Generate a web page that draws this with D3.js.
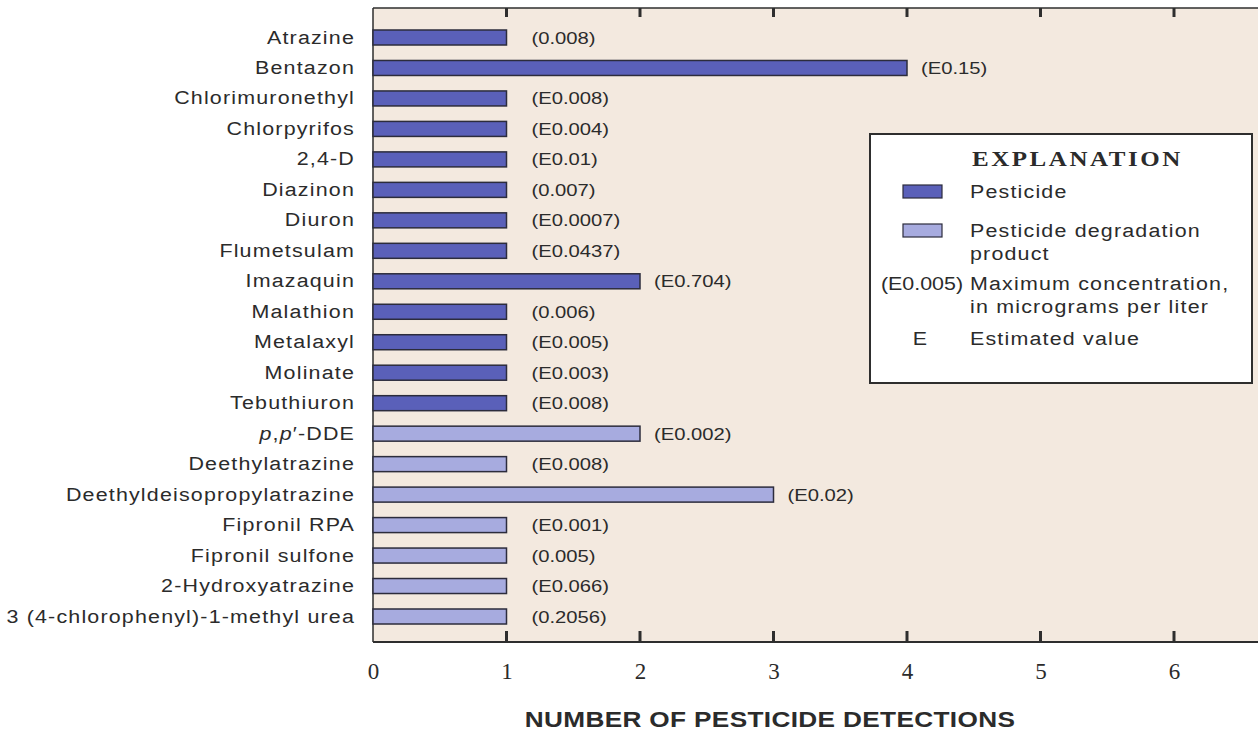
<!DOCTYPE html>
<html>
<head>
<meta charset="utf-8">
<script src="https://cdnjs.cloudflare.com/ajax/libs/d3/7.8.5/d3.min.js"></script>
<style>
  body { margin: 0; background: #fff; }
  svg { display: block; }
  .lbl { font-family: "Liberation Sans", Arial, sans-serif; fill: #2b2b2b; }
</style>
</head>
<body>
<div id="canvas"></div>
<script>
// compounds, top to bottom
var names = ['Atrazine', 'Bentazon', 'Chlorimuronethyl', 'Chlorpyrifos', '2,4-D', 'Diazinon',
    'Diuron', 'Flumetsulam', 'Imazaquin', 'Malathion', 'Metalaxyl', 'Molinate', 'Tebuthiuron',
    'p,p\u2032-DDE', 'Deethylatrazine', 'Deethyldeisopropylatrazine', 'Fipronil RPA',
    'Fipronil sulfone', '2-Hydroxyatrazine', '3 (4-chlorophenyl)-1-methyl urea'];
// number of detections
var counts = [1, 4, 1, 1, 1, 1, 1, 1, 2, 1, 1, 1, 1, 2, 1, 3, 1, 1, 1, 1];
// maximum concentration labels
var maxConc = ['(0.008)', '(E0.15)', '(E0.008)', '(E0.004)', '(E0.01)', '(0.007)', '(E0.0007)',
    '(E0.0437)', '(E0.704)', '(0.006)', '(E0.005)', '(E0.003)', '(E0.008)', '(E0.002)',
    '(E0.008)', '(E0.02)', '(E0.001)', '(0.005)', '(E0.066)', '(0.2056)'];
// type: pesticide or degradation product
var types = ['P', 'P', 'P', 'P', 'P', 'P', 'P', 'P', 'P', 'P', 'P', 'P', 'P',
    'D', 'D', 'D', 'D', 'D', 'D', 'D'];
var xTicks = [0, 1, 2, 3, 4, 5, 6];

var W = 1258, H = 733;
var m = {t: 8, l: 373, b: 642};
var SX = 1.19; // the scanned figure is a little wider than tall

var data = names.map(function(n, i){
    return {name: n, count: counts[i], label: maxConc[i], type: types[i]};
});

var colors = {P: '#5a60b9', D: '#a7abdf'};

var svg = d3.select('#canvas').append('svg')
    .attr('width', W).attr('height', H);

// place a text at (x,y) and widen it horizontally
function place(sel, fx, fy){
    sel.attr('transform', function(d, i){
        var px = typeof fx === 'function' ? fx(d, i) : fx,
            py = typeof fy === 'function' ? fy(d, i) : fy;
        return 'translate(' + px + ',' + py + ') scale(' + SX + ',1)';
    });
    return sel;
}

var x = d3.scaleLinear().domain([0, 7]).range([m.l, m.l + 7 * 133.5]);
var y = d3.scalePoint().domain(names).range([37.5, 616.5]);
var barH = 15;

// plot background
svg.append('rect')
    .attr('x', m.l).attr('y', m.t)
    .attr('width', W - m.l).attr('height', m.b - m.t)
    .style('fill', '#f3e9df');

// frame lines
svg.append('line').attr('x1', m.l).attr('x2', W).attr('y1', m.t).attr('y2', m.t)
    .style('stroke', '#2e2e2e').style('stroke-width', 1.5);
svg.append('line').attr('x1', m.l).attr('x2', m.l).attr('y1', m.t).attr('y2', m.b)
    .style('stroke', '#2e2e2e').style('stroke-width', 1.5);

// bottom axis
var xAxis = d3.axisBottom(x).tickValues(xTicks).tickSize(0).tickPadding(21)
    .tickFormat(d3.format('d'));
var gx = svg.append('g').attr('transform', 'translate(0,' + m.b + ')').call(xAxis);
gx.select('.domain').remove();
gx.append('line').attr('x1', m.l).attr('x2', W).style('stroke', '#2e2e2e').style('stroke-width', 2);
gx.selectAll('.tick text')
    .style('font-family', '"Liberation Serif", "Times New Roman", serif')
    .style('font-size', '23px').style('fill', '#2b2b2b');

// inner ticks, bottom and top
var tickVals = xTicks.filter(function(d){ return d > 0; });
svg.selectAll('.btick').data(tickVals).enter().append('line').attr('class', 'btick')
    .attr('x1', function(d){ return x(d); }).attr('x2', function(d){ return x(d); })
    .attr('y1', m.b).attr('y2', m.b - 11)
    .style('stroke', '#2e2e2e').style('stroke-width', 3);
svg.selectAll('.ttick').data(tickVals).enter().append('line').attr('class', 'ttick')
    .attr('x1', function(d){ return x(d); }).attr('x2', function(d){ return x(d); })
    .attr('y1', m.t).attr('y2', m.t + 9)
    .style('stroke', '#2e2e2e').style('stroke-width', 3);

// bars
svg.selectAll('.bar').data(data).enter().append('rect').attr('class', 'bar')
    .attr('x', x(0))
    .attr('y', function(d){ return y(d.name) - barH / 2; })
    .attr('width', function(d){ return x(d.count) - x(0); })
    .attr('height', barH)
    .style('fill', function(d){ return colors[d.type]; })
    .style('stroke', '#2c2c3c').style('stroke-width', 1.5);

// value labels
var val = svg.selectAll('.val').data(data).enter().append('text').attr('class', 'lbl val')
    .style('font-size', '17px')
    .text(function(d){ return d.label; });
place(val, function(d){ return x(d.count) + (d.count === 1 ? 25 : 14); },
    function(d){ return y(d.name) + 6; });

// category labels
var cat = svg.selectAll('.cat').data(data).enter().append('text').attr('class', 'lbl cat')
    .attr('text-anchor', 'end')
    .style('font-size', '18px').style('letter-spacing', '1px');
place(cat, 355, function(d){ return y(d.name) + 6; });
cat.each(function(d){
    var t = d3.select(this);
    if (d.name.indexOf('p,p') === 0) {
        t.append('tspan').style('font-style', 'italic').text('p');
        t.append('tspan').text(',');
        t.append('tspan').style('font-style', 'italic').text('p');
        t.append('tspan').text(d.name.slice(3));
    } else {
        t.text(d.name);
    }
});

// axis title
place(svg.append('text').attr('class', 'lbl')
    .attr('text-anchor', 'middle')
    .style('font-size', '22px').style('font-weight', 'bold').style('letter-spacing', '0.3px')
    .text('NUMBER OF PESTICIDE DETECTIONS'), 770, 727);

// legend
var lg = svg.append('g').attr('transform', 'translate(870,134)');
lg.append('rect').attr('width', 382).attr('height', 249)
    .style('fill', '#fff').style('stroke', '#2e2e2e').style('stroke-width', 2);
place(lg.append('text')
    .style('font-family', '"Liberation Serif", "Times New Roman", serif')
    .style('font-size', '21px').style('font-weight', 'bold').style('fill', '#2b2b2b')
    .attr('textLength', 175).attr('lengthAdjust', 'spacing')
    .text('EXPLANATION'), 102, 32);

var legItems = [
    {type: 'P', lines: ['Pesticide'], y: 64},
    {type: 'D', lines: ['Pesticide degradation', 'product'], y: 103},
    {key: '(E0.005)', lines: ['Maximum concentration,', 'in micrograms per liter'], y: 156},
    {key: 'E', lines: ['Estimated value'], y: 211}
];
legItems.forEach(function(it){
    if (it.type) {
        lg.append('rect').attr('x', 33).attr('y', it.y - 13).attr('width', 39).attr('height', 13)
            .style('fill', colors[it.type]).style('stroke', '#2c2c3c').style('stroke-width', 1.2);
    } else {
        place(lg.append('text').attr('class', 'lbl')
            .attr('text-anchor', 'middle')
            .style('font-size', '18px')
            .text(it.key), it.key === 'E' ? 50 : 52, it.y);
    }
    it.lines.forEach(function(s, j){
        place(lg.append('text').attr('class', 'lbl')
            .style('font-size', '18px').style('letter-spacing', '1px')
            .text(s), 100, it.y + j * 23);
    });
});
</script>
</body>
</html>
